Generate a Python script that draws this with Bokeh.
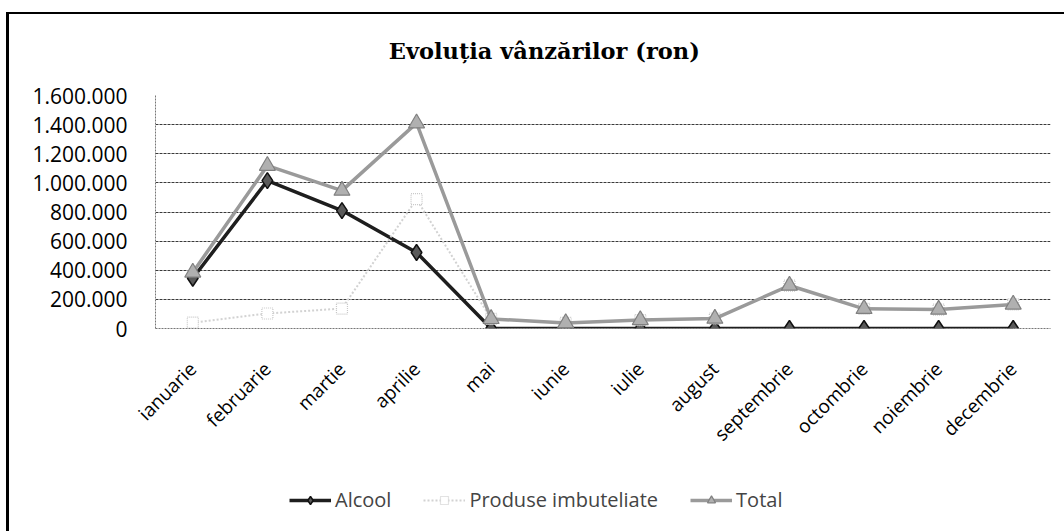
from math import pi
from bokeh.plotting import figure
from bokeh.layouts import column
from bokeh.models import FactorRange, Range1d, FixedTicker, Legend, LegendItem, Label
from bokeh.embed import file_html
from bokeh.resources import INLINE

months = ["ianuarie", "februarie", "martie", "aprilie", "mai", "iunie",
          "iulie", "august", "septembrie", "octombrie", "noiembrie", "decembrie"]
alcool = [345000, 1015000, 810000, 522000, 0, 0, 0, 0, 0, 0, 0, 0]
produse = [40000, 103000, 137000, 888000, 66000, 38000, 58000, 68000, 295000, 135000, 130000, 165000]
total = [385000, 1118000, 947000, 1410000, 66000, 38000, 58000, 68000, 295000, 135000, 130000, 165000]
y_ticks = [0, 200000, 400000, 600000, 800000, 1000000, 1200000, 1400000, 1600000]
y_tick_labels = ["0", "200.000", "400.000", "600.000", "800.000", "1.000.000",
                 "1.200.000", "1.400.000", "1.600.000"]
title_text = "Evoluția vânzărilor (ron)"
series_names = ["Alcool", "Produse imbuteliate", "Total"]

# styles per series
alc_line = dict(line_color="#1e1e1e", line_width=3.5)
alc_mark = dict(marker="diamond", size=16, fill_color="#5a5a5a", line_color="#111111", line_width=1.5)
pro_line = dict(line_color="#d2d2d2", line_width=2, line_dash="2 2")
pro_mark = dict(marker="square", size=11, fill_color="white", line_color="#c8c8c8",
                line_width=1.2, line_dash="1 1")
tot_line = dict(line_color="#9a9a9a", line_width=3.5)
tot_mark = dict(marker="triangle", size=16, fill_color="#b0b0b0", line_color="#808080", line_width=1.2)

W = 1055
TH = 60  # title strip height

# title strip
t = figure(width=W, height=TH, output_backend="svg", toolbar_location=None,
           x_range=Range1d(0, W), y_range=Range1d(0, TH), title_location=None,
           min_border=0, x_axis_type=None, y_axis_type=None)
t.outline_line_color = None
t.xgrid.visible = False
t.ygrid.visible = False
t.add_layout(Label(x=275, y=TH - 36, text=title_text, text_font="DejaVu Serif",
                   text_font_size="22.5px", text_font_style="bold", text_color="black",
                   text_align="left", text_baseline="middle"))

# main chart
p = figure(width=W, height=444 - TH, output_backend="svg", toolbar_location=None,
           x_range=FactorRange(factors=months), y_range=Range1d(0, 1600000),
           title_location=None,
           min_border_left=146, min_border_right=14, min_border_top=81 - TH, min_border_bottom=130)
p.outline_line_color = None
p.background_fill_color = "white"
p.border_fill_color = "white"

p.yaxis.ticker = FixedTicker(ticks=y_ticks)
p.yaxis.major_label_overrides = {tk: lb for tk, lb in zip(y_ticks, y_tick_labels)}
p.yaxis.major_label_text_font = "Open Sans"
p.yaxis.major_label_text_font_size = "21px"
p.yaxis.major_label_text_color = "black"
p.yaxis.major_tick_line_color = None
p.yaxis.minor_tick_line_color = None
p.yaxis.major_label_standoff = 22
p.yaxis.axis_line_color = "#777777"
p.yaxis.axis_line_dash = "2 1"

p.xaxis.major_label_orientation = pi / 4
p.xaxis.major_label_text_font = "Open Sans"
p.xaxis.major_label_text_font_size = "19px"
p.xaxis.major_label_text_color = "black"
p.xaxis.major_tick_line_color = None
p.xaxis.major_label_standoff = 31
p.xaxis.axis_line_color = "#777777"
p.xaxis.axis_line_dash = "2 1"

p.xgrid.grid_line_color = None
p.ygrid.ticker = FixedTicker(ticks=y_ticks)
p.ygrid.grid_line_color = "#3a3a3a"
p.ygrid.grid_line_dash = "3 1"
p.ygrid.grid_line_width = 1.2

p.line(months, alcool, **alc_line)
p.scatter(months, alcool, **alc_mark)
p.line(months, produse, **pro_line)
p.scatter(months, produse, **pro_mark)
p.line(months, total, **tot_line)
p.scatter(months, total, **tot_mark)

# legend strip (separate figure so the legend is not clipped); the series are
# drawn again there but fall outside its y range, only their legend glyphs show
q = figure(width=W, height=73, output_backend="svg", toolbar_location=None,
           x_range=FactorRange(factors=months), y_range=Range1d(-2, -1),
           title_location=None, min_border=0, x_axis_type=None, y_axis_type=None)
q.outline_line_color = None
q.xgrid.visible = False
q.ygrid.visible = False
q.border_fill_color = "white"
la = q.line(months, alcool, **alc_line)
ma = q.scatter(months, alcool, **alc_mark)
lp = q.line(months, produse, **pro_line)
mp = q.scatter(months, produse, **pro_mark)
lt = q.line(months, total, **tot_line)
mt = q.scatter(months, total, **tot_mark)

legend = Legend(items=[LegendItem(label=series_names[0], renderers=[la, ma]),
                       LegendItem(label=series_names[1], renderers=[lp, mp]),
                       LegendItem(label=series_names[2], renderers=[lt, mt])],
                orientation="horizontal", location=(134, 18))
legend.border_line_color = None
legend.background_fill_alpha = 0
legend.label_text_font = "Open Sans"
legend.label_text_font_size = "20px"
legend.glyph_width = 42
legend.spacing = 32
legend.label_standoff = 4
legend.margin = 0
q.add_layout(legend, "center")

layout = column(t, p, q, spacing=0)
layout.styles = {"border-left": "3px solid black", "border-top": "2px solid black",
                 "margin-top": "12px", "margin-left": "6px"}

open("out.html", "w").write(file_html(layout, INLINE))
